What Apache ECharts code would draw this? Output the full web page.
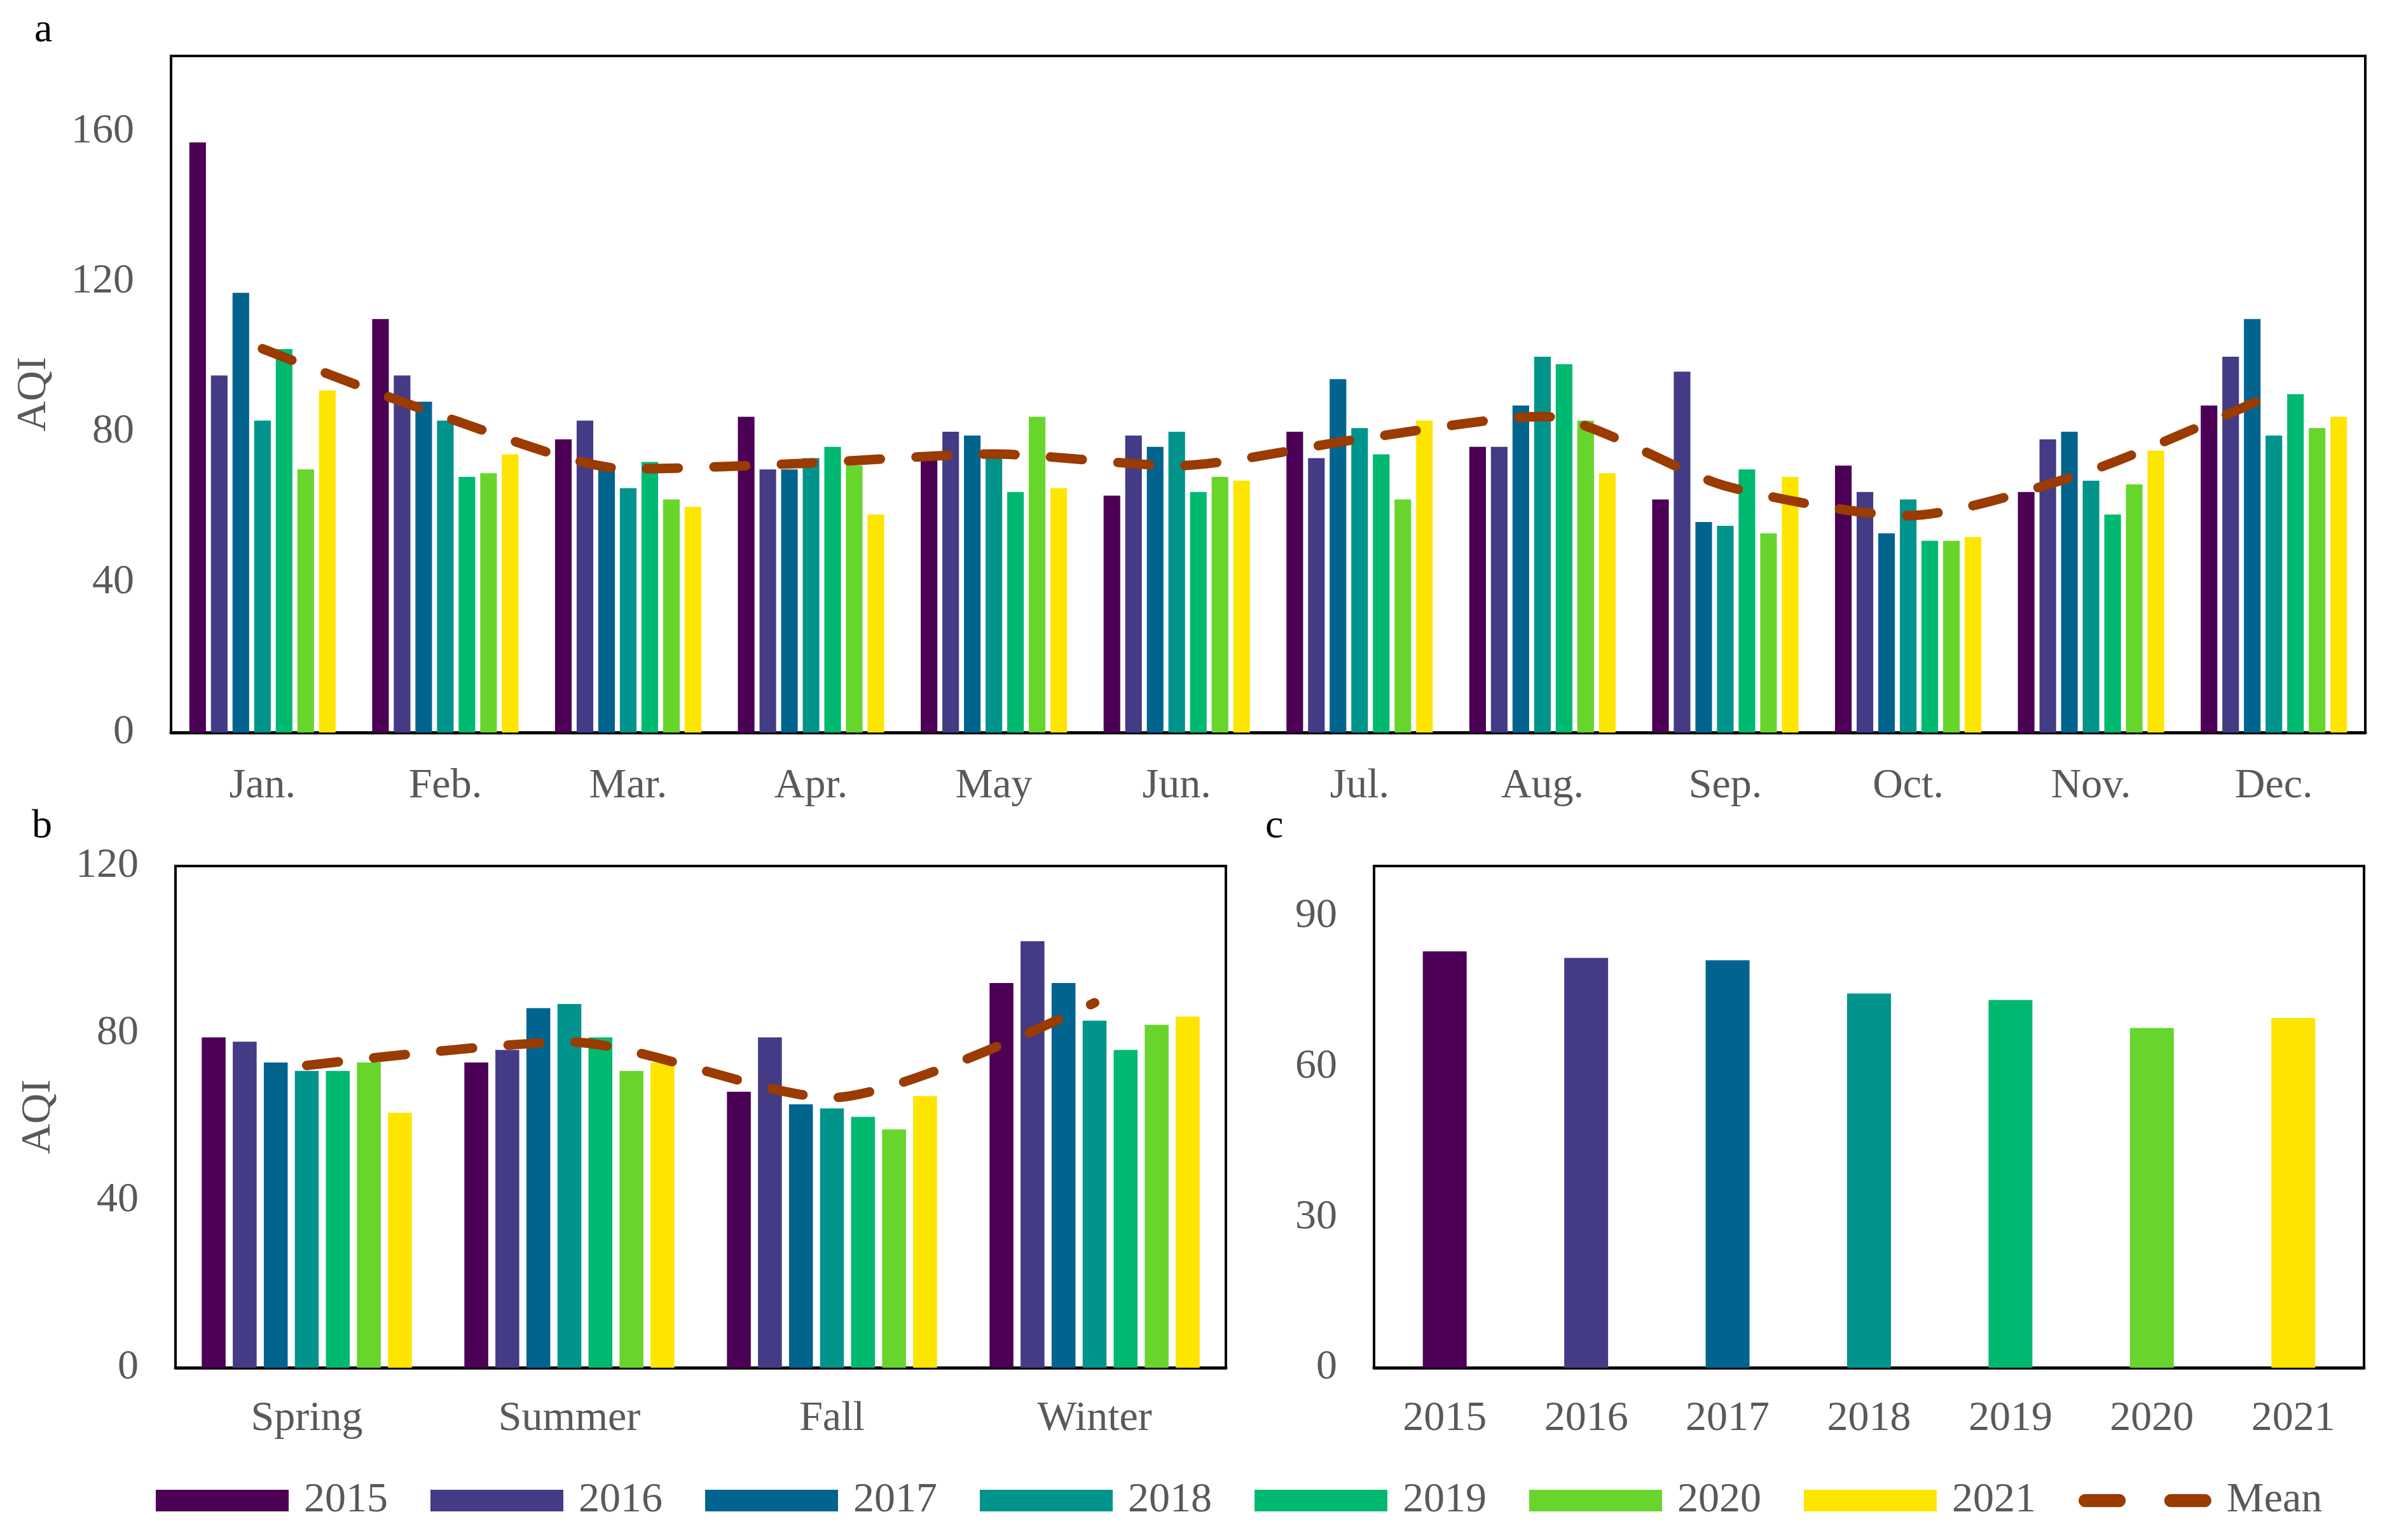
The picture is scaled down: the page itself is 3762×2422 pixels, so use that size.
<!DOCTYPE html>
<html>
<head>
<meta charset="utf-8">
<script src="https://cdn.jsdelivr.net/npm/echarts@6/dist/echarts.min.js"></script>
<style>html,body{margin:0;padding:0;background:#fff;}#c{width:3762px;height:2422px;}</style>
</head>
<body>
<div id="c"></div>
<script>
const months = ['Jan.', 'Feb.', 'Mar.', 'Apr.', 'May', 'Jun.', 'Jul.', 'Aug.', 'Sep.', 'Oct.', 'Nov.', 'Dec.'];
const years = ['2015', '2016', '2017', '2018', '2019', '2020', '2021'];
const seasons = ['Spring', 'Summer', 'Fall', 'Winter'];

const monthly2015 = [157, 110, 78, 84, 73, 63, 80, 76, 62, 71, 64, 87];
const monthly2016 = [95, 95, 83, 70, 80, 79, 73, 76, 96, 64, 78, 100];
const monthly2017 = [117, 88, 71, 70, 79, 76, 94, 87, 56, 53, 80, 110];
const monthly2018 = [83, 83, 65, 73, 74, 80, 81, 100, 55, 62, 67, 79];
const monthly2019 = [102, 68, 72, 76, 64, 64, 74, 98, 70, 51, 58, 90];
const monthly2020 = [70, 69, 62, 71, 84, 68, 62, 83, 53, 51, 66, 81];
const monthly2021 = [91, 74, 60, 58, 65, 67, 83, 69, 68, 52, 75, 84];
const monthlyMean = [102.1, 83.9, 70.1, 71.7, 74.1, 71.0, 78.1, 84.1, 65.6, 57.7, 69.7, 90.1];

const seasonal2015 = [79, 73, 66, 92];
const seasonal2016 = [78, 76, 79, 102];
const seasonal2017 = [73, 86, 63, 92];
const seasonal2018 = [71, 87, 62, 83];
const seasonal2019 = [71, 79, 60, 76];
const seasonal2020 = [73, 71, 57, 82];
const seasonal2021 = [61, 73, 65, 84];
const seasonalMean = [72.3, 77.9, 64.6, 87.3];

const annualAQI = [83.0, 81.7, 81.2, 74.6, 73.3, 67.7, 69.7];

const yearColors = ['#4c0055', '#433b86', '#00648e', '#00948d', '#00b970', '#68d52d', '#fde500'];
const meanColor = '#9a3b00';

const monthlyByYear = [monthly2015, monthly2016, monthly2017, monthly2018, monthly2019, monthly2020, monthly2021];
const seasonalByYear = [seasonal2015, seasonal2016, seasonal2017, seasonal2018, seasonal2019, seasonal2020, seasonal2021];

const FONT = 'Liberation Serif';
const GREY = '#595959';
const FS = 66;

function xAxisCfg(gridIndex, data, margin) {
  return {
    type: 'category', gridIndex: gridIndex, data: data,
    axisTick: { show: false },
    axisLine: { lineStyle: { color: '#000', width: 5 } },
    axisLabel: { fontFamily: FONT, fontSize: FS, color: GREY, margin: margin }
  };
}
function yAxisCfg(gridIndex, max, interval, name, hideMax) {
  return {
    type: 'value', gridIndex: gridIndex, min: 0, max: max, interval: interval,
    name: name, nameLocation: 'middle', nameGap: 182,
    nameTextStyle: { fontFamily: FONT, fontSize: FS, color: GREY },
    splitLine: { show: false },
    axisTick: { show: false },
    axisLine: { show: false },
    axisLabel: { fontFamily: FONT, fontSize: FS, color: GREY, margin: 58, showMaxLabel: !hideMax }
  };
}

const meanLine = { color: meanColor, width: 15, type: [50, 56], cap: 'round' };

const series = [];
years.forEach(function (y, i) {
  series.push({
    name: y, type: 'bar', xAxisIndex: 0, yAxisIndex: 0,
    data: monthlyByYear[i], itemStyle: { color: yearColors[i] },
    barGap: '30%', barCategoryGap: '20%'
  });
});
series.push({
  name: 'Mean', type: 'line', xAxisIndex: 0, yAxisIndex: 0, data: monthlyMean,
  symbol: 'none', smooth: 0.25, z: 5,
  lineStyle: meanLine, itemStyle: { color: meanColor }
});
years.forEach(function (y, i) {
  series.push({
    name: y, type: 'bar', xAxisIndex: 1, yAxisIndex: 1,
    data: seasonalByYear[i], itemStyle: { color: yearColors[i] },
    barGap: '30%', barCategoryGap: '20%'
  });
});
series.push({
  name: 'Mean', type: 'line', xAxisIndex: 1, yAxisIndex: 1, data: seasonalMean,
  symbol: 'none', smooth: 0.25, z: 5,
  lineStyle: meanLine, itemStyle: { color: meanColor }
});
series.push({
  name: 'Annual', type: 'bar', xAxisIndex: 2, yAxisIndex: 2,
  barWidth: 69,
  data: annualAQI.map(function (v, i) { return { value: v, itemStyle: { color: yearColors[i] } }; })
});

const meanIcon = 'path://M9,0 L56,0 A9,9 0 0 1 56,18 L9,18 A9,9 0 0 1 9,0 Z M127,0 L174,0 A9,9 0 0 1 174,18 L127,18 A9,9 0 0 1 127,0 Z';

const legendData = years.map(function (y) { return { name: y, icon: 'rect' }; });
legendData.push({ name: 'Mean', icon: meanIcon, itemStyle: { color: meanColor } });

const chart = echarts.init(document.getElementById('c'), null, { renderer: 'canvas' });
chart.setOption({
  backgroundColor: '#fff',
  animation: false,
  textStyle: { fontFamily: FONT },
  grid: [
    { left: 269, right: 42, top: 88, height: 1064, show: true, borderColor: '#000', borderWidth: 4 },
    { left: 276, width: 1652, top: 1362, height: 789, show: true, borderColor: '#000', borderWidth: 4 },
    { left: 2161, width: 1557, top: 1362, height: 789, show: true, borderColor: '#000', borderWidth: 4 }
  ],
  xAxis: [xAxisCfg(0, months, 52), xAxisCfg(1, seasons, 48), xAxisCfg(2, years, 48)],
  yAxis: [yAxisCfg(0, 180, 40, 'AQI', true), yAxisCfg(1, 120, 40, 'AQI', false), yAxisCfg(2, 100, 30, '', true)],
  legend: {
    data: legendData,
    left: 240, top: 2322,
    itemWidth: 209, itemHeight: 34, itemGap: 67,
    textStyle: { fontFamily: FONT, fontSize: FS, color: GREY, padding: [0, 0, 0, 19] }
  },
  graphic: [
    { type: 'text', left: 54, top: 16, style: { text: 'a', font: '64px "Liberation Serif"', fill: '#000' } },
    { type: 'text', left: 50, top: 1268, style: { text: 'b', font: '64px "Liberation Serif"', fill: '#000' } },
    { type: 'text', left: 1990, top: 1268, style: { text: 'c', font: '64px "Liberation Serif"', fill: '#000' } }
  ],
  series: series
});
</script>
</body>
</html>
